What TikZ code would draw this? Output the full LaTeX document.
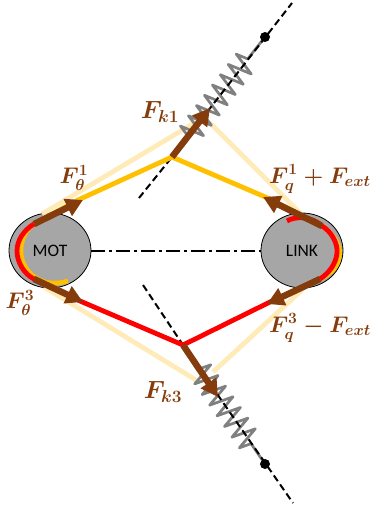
\documentclass[tikz,border=0pt]{standalone}
\usepackage{fontspec}
\setsansfont{Carlito}
\usetikzlibrary{arrows.meta,decorations.pathmorphing,shapes.geometric}
\definecolor{beltpale}{HTML}{FFEBB8}
\definecolor{beltyellow}{HTML}{FFC000}
\definecolor{forcebrown}{HTML}{843C0C}
\definecolor{pulleygrey}{HTML}{A6A6A6}
\definecolor{springgrey}{HTML}{808080}
\tikzset{
    pulley/.style={draw, ellipse, fill=pulleygrey, line width=0.8pt, minimum width=82pt, minimum height=75pt, inner sep=0pt, font=\sffamily\fontsize{17.5}{19}\selectfont},
    paleline/.style={beltpale, line width=4.8pt},
    yellowline/.style={beltyellow, line width=4.8pt},
    redline/.style={red, line width=4.8pt},
    force/.style={forcebrown, line width=6.5pt, -{Triangle[length=17pt,width=18pt]}},
    forcelabel/.style={text=forcebrown, inner sep=0pt, scale=1.09, font=\boldmath\fontsize{20.74}{24}\selectfont},
    springlabel/.style={text=forcebrown, inner sep=0pt, font=\boldmath\fontsize{23.5}{26}\selectfont},
    axisline/.style={black, line width=2pt, dash pattern=on 7pt off 4pt},
    springline/.style={springgrey, line width=2.7pt, line join=round},
    springcoil/.style={springline, decorate, decoration={zigzag, segment length=13pt, amplitude=12pt}},
    anchordot/.style={circle, fill=black, minimum size=10pt, inner sep=0pt}
}
\begin{document}
\begin{tikzpicture}[x=1pt, y=-1pt]
    \useasboundingbox (0,0) rectangle (370,512);

    % Pulleys and the line between them.
    \node[pulley] (mot) at (50,250.5) {MOT};
    \node[pulley] (link) at (302,250.5) {LINK};
    \draw[black, line width=2pt, dash pattern=on 14pt off 4pt on 3pt off 4pt] (mot.east) -- (link.west);

    % Fixed ends and the points where the belt meets the springs.
    \node[anchordot] (topdot) at (265,37) {};
    \node[anchordot] (botdot) at (265,464) {};
    \coordinate (topidler) at (172,157);
    \coordinate (botidler) at (183,345);
    \coordinate (topspring) at (188,136);
    \coordinate (botspring) at (199,369);
    \coordinate (topstub) at (250,56);
    \coordinate (botstub) at (252,445);

    % Resting belt.
    \draw[paleline] (42,214) -- (196,122);
    \draw[paleline] (209,122) -- (301,214);
    \draw[paleline] (44,287) -- (196,380);
    \draw[paleline] (213,372) -- (302,290);

    % Springs, upper and lower.
    \draw[springcoil] (topspring) -- (topstub);
    \draw[springline] (topstub) -- (topdot);
    \draw[springcoil] (botspring) -- (botstub);
    \draw[springline] (botstub) -- (botdot);

    % Spring axes.
    \coordinate (topfar) at (292,3);
    \coordinate (topnear) at (139,198);
    \coordinate (botfar) at (293,503);
    \coordinate (botnear) at (143,285);
    \draw[axisline] (topnear) -- (topidler) -- (topfar);
    \draw[axisline] (botnear) -- (botidler) -- (botfar);

    % Belt around the pulleys and over the idlers.
    \coordinate (motyellowend) at (68,281);
    \coordinate (motup) at (34,224);
    \coordinate (motdown) at (34,279);
    \coordinate (linkup) at (322,226);
    \coordinate (linkdown) at (320,279);
    \coordinate (linkredend) at (287,221);
    \draw[yellowline] (motyellowend) .. controls (40,290) and (19,270) .. (21,248)
        .. controls (22,236) and (28,228) .. (motup);
    \draw[yellowline] (motup) -- (78,200) -- (topidler) -- (270,199) -- (linkup);
    \draw[yellowline] (linkup) .. controls (335,235) and (342,248) .. (339,258)
        .. controls (337,268) and (330,274) .. (linkdown);
    \draw[redline] (motup) .. controls (24,230) and (17,240) .. (17,251)
        .. controls (17,262) and (24,274) .. (motdown) -- (80,301) -- (botidler) -- (270,302) -- (linkdown);
    \draw[redline] (linkredend) .. controls (295,216) and (312,216) .. (linkup)
        .. controls (332,232) and (338,244) .. (337,253)
        .. controls (336,264) and (329,273) .. (linkdown);

    % Forces.
    \draw[force] (motup) -- (83,200);
    \draw[force] (motdown) -- (83,302);
    \draw[force] (linkup) -- (263,197);
    \draw[force] (linkdown) -- (267,304);
    \draw[force] (topidler) -- (210,108);
    \draw[force] (botidler) -- (218,397);

    % Labels.
    \node[forcelabel] (ftheta1) at (74,178) {$F_{\theta}^{1}$};
    \node[forcelabel] (ftheta3) at (20,303) {$F_{\theta}^{3}$};
    \node[forcelabel] (fq1) at (320,179) {$F_{q}^{1}+F_{ext}$};
    \node[forcelabel] (fq3) at (320,328) {$F_{q}^{3}-F_{ext}$};
    \node[springlabel] (fk1) at (160,112) {$F_{k1}$};
    \node[springlabel] (fk3) at (163,392) {$F_{k3}$};
\end{tikzpicture}
\end{document}
